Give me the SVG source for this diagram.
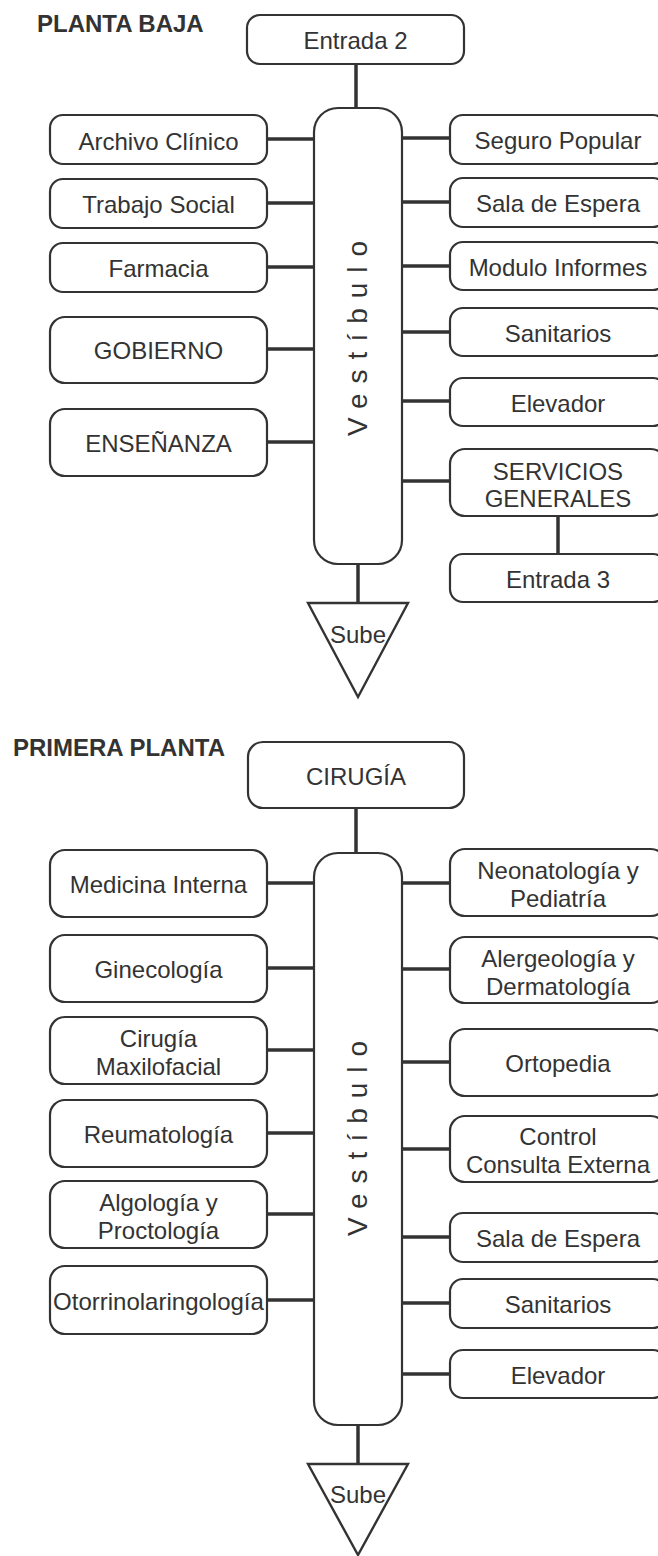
<svg xmlns="http://www.w3.org/2000/svg" width="658" height="1556" viewBox="0 0 658 1556">
<style>
.box{fill:#fff;stroke:#333;stroke-width:2.2}
.vb{fill:#fff;stroke:#333;stroke-width:2.2}
.tri{fill:#fff;stroke:#333;stroke-width:2.4;stroke-linejoin:miter}
.conn line{stroke:#333;stroke-width:3.5}
.lbl{font-family:"Liberation Sans",Arial,sans-serif;font-size:24px;fill:#333;text-anchor:middle}
.title{font-family:"Liberation Sans",Arial,sans-serif;font-size:24px;font-weight:bold;fill:#333}
.vest{font-family:"Liberation Sans",Arial,sans-serif;font-size:28px;fill:#333;text-anchor:middle;letter-spacing:10px}
</style>
<rect width="658" height="1556" fill="#fff"/>

<text class="title" x="37" y="31.5">PLANTA BAJA</text>
<text class="title" x="13" y="756">PRIMERA PLANTA</text>

<g class="conn" id="connectors">
  <line x1="356" y1="64" x2="356" y2="108"/>
  <line x1="267" y1="139" x2="314" y2="139"/>
  <line x1="267" y1="203" x2="314" y2="203"/>
  <line x1="267" y1="267" x2="314" y2="267"/>
  <line x1="267" y1="349" x2="314" y2="349"/>
  <line x1="267" y1="442" x2="314" y2="442"/>
  <line x1="402" y1="138" x2="450" y2="138"/>
  <line x1="402" y1="202" x2="450" y2="202"/>
  <line x1="402" y1="266" x2="450" y2="266"/>
  <line x1="402" y1="332" x2="450" y2="332"/>
  <line x1="402" y1="401" x2="450" y2="401"/>
  <line x1="402" y1="481" x2="450" y2="481"/>
  <line x1="558" y1="516" x2="558" y2="554"/>
  <line x1="358" y1="564" x2="358" y2="603"/>

  <line x1="356" y1="808" x2="356" y2="853"/>
  <line x1="267" y1="883" x2="314" y2="883"/>
  <line x1="267" y1="968" x2="314" y2="968"/>
  <line x1="267" y1="1050" x2="314" y2="1050"/>
  <line x1="267" y1="1133" x2="314" y2="1133"/>
  <line x1="267" y1="1214" x2="314" y2="1214"/>
  <line x1="267" y1="1300" x2="314" y2="1300"/>
  <line x1="402" y1="883" x2="450" y2="883"/>
  <line x1="402" y1="969" x2="450" y2="969"/>
  <line x1="402" y1="1062" x2="450" y2="1062"/>
  <line x1="402" y1="1149" x2="450" y2="1149"/>
  <line x1="402" y1="1237" x2="450" y2="1237"/>
  <line x1="402" y1="1303" x2="450" y2="1303"/>
  <line x1="402" y1="1374" x2="450" y2="1374"/>
  <line x1="358" y1="1425" x2="358" y2="1464"/>
</g>

<!-- PLANTA BAJA -->
<g id="entrada2"><rect class="box" x="247" y="15" width="217" height="49" rx="13"/><text class="lbl" x="355.5" y="49">Entrada 2</text></g>
<g id="vestibulo1"><rect class="vb" x="314" y="108" width="88" height="456" rx="24"/>
  <g transform="translate(358,338.5) rotate(-90)"><text class="vest" x="5" y="9">Vestíbulo</text></g></g>
<g id="archivo"><rect class="box" x="50" y="115" width="217" height="49" rx="13"/><text class="lbl" x="158.5" y="149.5">Archivo Clínico</text></g>
<g id="trabajo"><rect class="box" x="50" y="179" width="217" height="49" rx="13"/><text class="lbl" x="158.5" y="213">Trabajo Social</text></g>
<g id="farmacia"><rect class="box" x="50" y="243" width="217" height="49" rx="13"/><text class="lbl" x="158.5" y="277">Farmacia</text></g>
<g id="gobierno"><rect class="box" x="50" y="317" width="217" height="66" rx="15"/><text class="lbl" x="158.5" y="359">GOBIERNO</text></g>
<g id="ensenanza"><rect class="box" x="50" y="409" width="217" height="67" rx="15"/><text class="lbl" x="158.5" y="452">ENSEÑANZA</text></g>
<g id="seguro"><rect class="box" x="450" y="115" width="216" height="49" rx="13"/><text class="lbl" x="558" y="149">Seguro Popular</text></g>
<g id="sala1"><rect class="box" x="450" y="178" width="216" height="49" rx="13"/><text class="lbl" x="558" y="212">Sala de Espera</text></g>
<g id="modulo"><rect class="box" x="450" y="242" width="216" height="48" rx="13"/><text class="lbl" x="558" y="275.5">Modulo Informes</text></g>
<g id="sanitarios1"><rect class="box" x="450" y="308" width="216" height="48" rx="13"/><text class="lbl" x="558" y="341.5">Sanitarios</text></g>
<g id="elevador1"><rect class="box" x="450" y="378" width="216" height="48" rx="13"/><text class="lbl" x="558" y="411.5">Elevador</text></g>
<g id="servicios"><rect class="box" x="450" y="449" width="216" height="67" rx="15"/><text class="lbl" x="558" y="480">SERVICIOS</text><text class="lbl" x="558" y="507">GENERALES</text></g>
<g id="entrada3"><rect class="box" x="450" y="554" width="216" height="48" rx="13"/><text class="lbl" x="558" y="587.5">Entrada 3</text></g>
<g id="sube1"><polygon class="tri" points="308,603 408,603 358,697"/><text class="lbl" x="358" y="643">Sube</text></g>

<!-- PRIMERA PLANTA -->
<g id="cirugia"><rect class="box" x="248" y="742" width="216" height="66" rx="15"/><text class="lbl" x="356" y="785">CIRUGÍA</text></g>
<g id="vestibulo2"><rect class="vb" x="314" y="853" width="88" height="572" rx="24"/>
  <g transform="translate(358,1138.5) rotate(-90)"><text class="vest" x="5" y="9">Vestíbulo</text></g></g>
<g id="medicina"><rect class="box" x="50" y="850" width="217" height="67" rx="15"/><text class="lbl" x="158.5" y="893">Medicina Interna</text></g>
<g id="ginecologia"><rect class="box" x="50" y="935" width="217" height="67" rx="15"/><text class="lbl" x="158.5" y="978">Ginecología</text></g>
<g id="maxilofacial"><rect class="box" x="50" y="1017" width="217" height="67" rx="15"/><text class="lbl" x="158.5" y="1047">Cirugía</text><text class="lbl" x="158.5" y="1075">Maxilofacial</text></g>
<g id="reumatologia"><rect class="box" x="50" y="1100" width="217" height="67" rx="15"/><text class="lbl" x="158.5" y="1143">Reumatología</text></g>
<g id="algologia"><rect class="box" x="50" y="1181" width="217" height="67" rx="15"/><text class="lbl" x="158.5" y="1211">Algología y</text><text class="lbl" x="158.5" y="1239">Proctología</text></g>
<g id="otorrino"><rect class="box" x="50" y="1266" width="217" height="68" rx="15"/><text class="lbl" x="158.5" y="1309.5">Otorrinolaringología</text></g>
<g id="neonatologia"><rect class="box" x="450" y="849" width="216" height="67" rx="15"/><text class="lbl" x="558" y="879">Neonatología y</text><text class="lbl" x="558" y="907">Pediatría</text></g>
<g id="alergeologia"><rect class="box" x="450" y="937" width="216" height="66" rx="15"/><text class="lbl" x="558" y="966.5">Alergeología y</text><text class="lbl" x="558" y="994.5">Dermatología</text></g>
<g id="ortopedia"><rect class="box" x="450" y="1029" width="216" height="67" rx="15"/><text class="lbl" x="558" y="1072">Ortopedia</text></g>
<g id="control"><rect class="box" x="450" y="1116" width="216" height="66" rx="15"/><text class="lbl" x="558" y="1145">Control</text><text class="lbl" x="558" y="1172.5">Consulta Externa</text></g>
<g id="sala2"><rect class="box" x="450" y="1213" width="216" height="49" rx="13"/><text class="lbl" x="558" y="1247">Sala de Espera</text></g>
<g id="sanitarios2"><rect class="box" x="450" y="1279" width="216" height="49" rx="13"/><text class="lbl" x="558" y="1313">Sanitarios</text></g>
<g id="elevador2"><rect class="box" x="450" y="1350" width="216" height="48" rx="13"/><text class="lbl" x="558" y="1383.5">Elevador</text></g>
<g id="sube2"><polygon class="tri" points="308,1464 408,1464 358,1555"/><text class="lbl" x="358" y="1503">Sube</text></g>
</svg>
